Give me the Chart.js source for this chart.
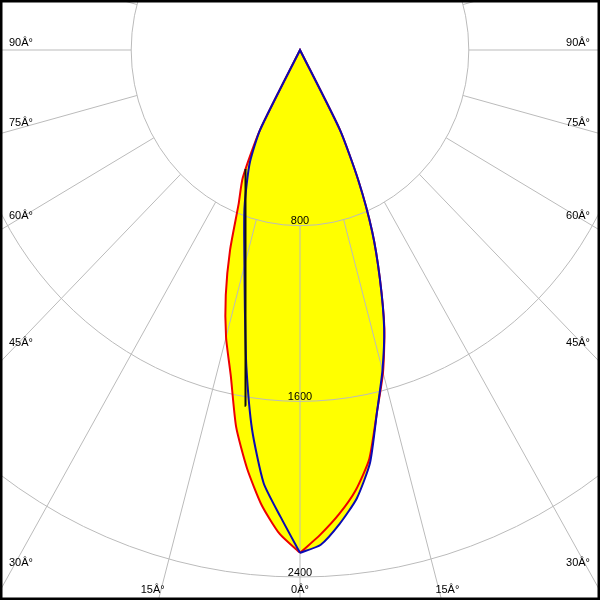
<!DOCTYPE html>
<html>
<head>
<meta charset="utf-8">
<script src="https://cdn.jsdelivr.net/npm/chart.js@4.4.1/dist/chart.umd.min.js"></script>
<style>
  html, body { margin: 0; padding: 0; background: #fff; }
  #wrap { width: 600px; height: 600px; }
</style>
</head>
<body>
<div id="wrap"><canvas id="polar" width="600" height="600"></canvas></div>
<script>
// intensity (cd) against angle from nadir (deg)
const angles = [0, 2.5, 5, 7.5, 10, 12.5, 15, 17.5, 20, 22.5, 25, 27.5, 30];
const c0   = [2290, 2209, 2122, 2022, 1891, 1687, 1520, 1330, 1106, 893, 653, 410, 0];
const c180 = [2290, 2206, 2081, 1922, 1743, 1517, 1354, 1170, 969, 761, 642, 410, 0];
const c90  = [2290, 2255, 2165, 2060, 1910, 1687, 1510, 1326, 1106, 893, 653, 410, 0];
const c270 = [2290, 2127, 1979, 1742, 1464, 1207, 1017, 880, 770, 660, 560, 410, 0];
// short dark trace on the left flank
const darkAngles = [9, 25.5];
const darkValues = [1640, 600];

const rings = [800, 1600, 2400];
const sideLabels = [90, 75, 60, 45, 30];
const bottomLabels = [15, 0];
const deg = '\u00C2\u00B0';

const rad = a => a * Math.PI / 180;

// one side of a plane; side = 1 right, -1 left
function half(angs, vals, side) {
    return angs.map((a, i) => ({ x: side * vals[i] * Math.sin(rad(a)), y: -vals[i] * Math.cos(rad(a)) }));
}
// right half up to the tip, then the left half back down
function loop(right, left) {
    return half(angles, right, 1).concat(half(angles, left, -1).reverse());
}

const polarGrid = {
    id: 'polarGrid',
    beforeDatasetsDraw(chart) {
        const { ctx, scales: { x, y } } = chart;
        const cx = x.getPixelForValue(0), cy = y.getPixelForValue(0);
        ctx.save();
        ctx.font = '11px "Liberation Sans", Arial, sans-serif';
        ctx.fillStyle = '#000';
        ctx.textAlign = 'center';
        rings.forEach(r => ctx.fillText(String(r), cx, y.getPixelForValue(-r) - 1.5));

        ctx.strokeStyle = '#bbbbbb';
        ctx.lineWidth = 1;
        rings.forEach(r => {
            const rx = x.getPixelForValue(r) - cx;
            const ry = y.getPixelForValue(-r) - cy;
            ctx.beginPath();
            ctx.ellipse(cx, cy, rx, ry, 0, 0, Math.PI * 2);
            ctx.stroke();
        });
        for (let a = 0; a < 360; a += 15) {
            const t = rad(a), r0 = rings[0], r1 = 8000;
            ctx.beginPath();
            ctx.moveTo(x.getPixelForValue(r0 * Math.sin(t)), y.getPixelForValue(-r0 * Math.cos(t)));
            ctx.lineTo(x.getPixelForValue(r1 * Math.sin(t)), y.getPixelForValue(-r1 * Math.cos(t)));
            ctx.stroke();
        }
        ctx.restore();
    },
    afterDraw(chart) {
        const { ctx, width: W, height: H, scales: { x, y } } = chart;
        const cx = x.getPixelForValue(0), cy = y.getPixelForValue(0);
        ctx.save();
        ctx.font = '11px "Liberation Sans", Arial, sans-serif';
        ctx.fillStyle = '#000';
        sideLabels.forEach(a => {
            const dy = a === 90 ? 0 : cx / Math.tan(rad(a));
            ctx.textAlign = 'left';
            ctx.fillText(a + deg, 9, cy + dy - 4);
            ctx.textAlign = 'right';
            ctx.fillText(a + deg, W - 10, cy + dy - 4);
        });
        ctx.textAlign = 'center';
        bottomLabels.forEach(a => {
            const dx = (H - cy) * Math.tan(rad(a));
            ctx.fillText(a + deg, cx - dx, H - 7);
            if (a !== 0) ctx.fillText(a + deg, cx + dx, H - 7);
        });
        // frame
        ctx.strokeStyle = '#000';
        ctx.lineWidth = 5;
        ctx.strokeRect(0, 0, W, H);
        ctx.restore();
    }
};

// px per cd: horizontal 0.211, vertical 0.2196, pole at (300, 50)
const kx = 0.211, ky = 0.2196;

new Chart(document.getElementById('polar'), {
    type: 'scatter',
    data: {
        datasets: [
            {
                data: half(darkAngles, darkValues, -1),
                showLine: true, borderColor: '#101010', borderWidth: 2,
                pointRadius: 0, fill: false
            },
            {
                data: loop(c90, c270),
                showLine: true, borderColor: '#0a0ab4', borderWidth: 2, tension: 0.2,
                pointRadius: 0, fill: 'shape', backgroundColor: '#ffff00'
            },
            {
                data: loop(c0, c180),
                showLine: true, borderColor: '#ee0000', borderWidth: 2, tension: 0.2,
                pointRadius: 0, fill: 'shape', backgroundColor: '#ffff00'
            }
        ]
    },
    options: {
        responsive: false,
        animation: false,
        layout: { padding: 0 },
        scales: {
            x: { type: 'linear', display: false, min: -300 / kx, max: 300 / kx },
            y: { type: 'linear', display: false, min: -550 / ky, max: 50 / ky }
        },
        plugins: {
            legend: { display: false },
            tooltip: { enabled: false },
            filler: { drawTime: 'beforeDatasetsDraw' }
        }
    },
    plugins: [polarGrid]
});
</script>
</body>
</html>
